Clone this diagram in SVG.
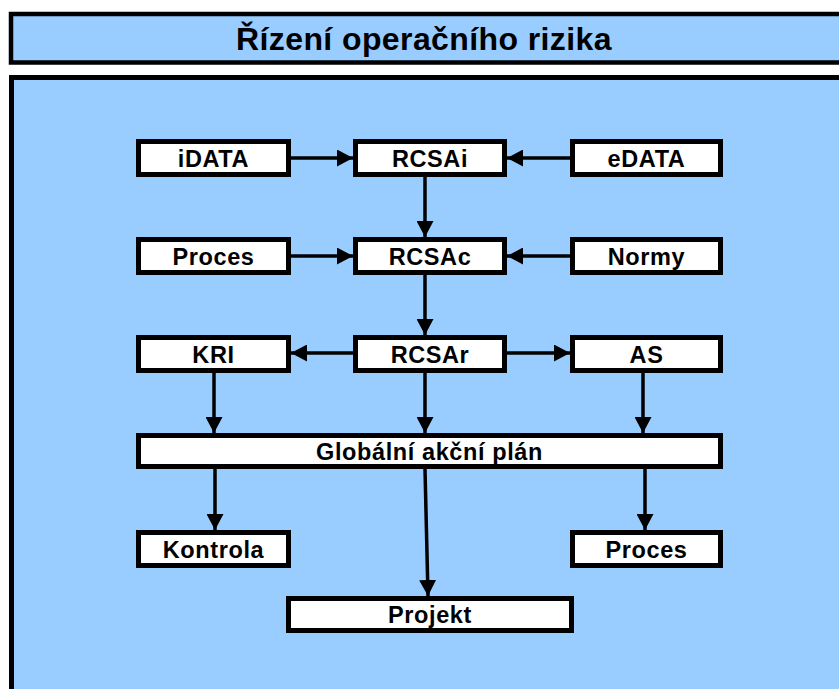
<svg xmlns="http://www.w3.org/2000/svg" width="839" height="689" viewBox="0 0 839 689">
<defs>
<style>
.panel{fill:#99CCFF;stroke:#000;stroke-width:5}
.box{fill:#fff;stroke:#000;stroke-width:5}
.t{font-family:"Liberation Sans",Arial,sans-serif;font-weight:bold;font-size:23.5px;letter-spacing:0.6px;text-anchor:middle;fill:#000}
.title{font-family:"Liberation Sans",Arial,sans-serif;font-weight:bold;font-size:32px;letter-spacing:0.4px;text-anchor:middle;fill:#000}
.c line{stroke:#000;stroke-width:3.5;marker-end:url(#ah)}
</style>
<marker id="ah" markerUnits="userSpaceOnUse" markerWidth="16" markerHeight="17" refX="16" refY="8.5" orient="auto" viewBox="0 0 16 17">
<path d="M0,0 L16,8.5 L0,17 Z" fill="#000"/>
</marker>
</defs>
<rect width="839" height="689" fill="#fff"/>
<g id="header">
<rect class="panel" x="11" y="14" width="840" height="48.5" style="stroke-width:4.5"/>
<text class="title" x="424" y="49.5">Řízení operačního rizika</text>
</g>
<g id="main-panel">
<rect class="panel" x="11.5" y="77.5" width="840" height="620"/>
</g>
<g id="connectors" class="c">
<line x1="291" y1="158" x2="353" y2="158"/>
<line x1="570" y1="158" x2="507" y2="158"/>
<line x1="425" y1="177" x2="425" y2="237"/>
<line x1="291" y1="256" x2="353" y2="256"/>
<line x1="570" y1="256" x2="507" y2="256"/>
<line x1="425" y1="275" x2="425" y2="335"/>
<line x1="353" y1="353" x2="291" y2="353"/>
<line x1="507" y1="353" x2="570" y2="353"/>
<line x1="214" y1="373" x2="214" y2="433"/>
<line x1="425" y1="373" x2="425" y2="433"/>
<line x1="643" y1="373" x2="643" y2="433"/>
<line x1="215" y1="469" x2="215" y2="530"/>
<line x1="645" y1="469" x2="645" y2="530"/>
<line x1="425" y1="469" x2="428" y2="596"/>
</g>
<g id="iDATA"><rect class="box" x="138.5" y="141.5" width="150" height="33"/><text class="t" x="213.5" y="166.5">iDATA</text></g>
<g id="RCSAi"><rect class="box" x="355.5" y="141.5" width="149" height="33"/><text class="t" x="430" y="166.5">RCSAi</text></g>
<g id="eDATA"><rect class="box" x="572.5" y="141.5" width="148" height="33"/><text class="t" x="646.5" y="166.5">eDATA</text></g>
<g id="Proces-in"><rect class="box" x="138.5" y="239.5" width="150" height="33"/><text class="t" x="213.5" y="264.5">Proces</text></g>
<g id="RCSAc"><rect class="box" x="355.5" y="239.5" width="149" height="33"/><text class="t" x="430" y="264.5">RCSAc</text></g>
<g id="Normy"><rect class="box" x="572.5" y="239.5" width="148" height="33"/><text class="t" x="646.5" y="264.5">Normy</text></g>
<g id="KRI"><rect class="box" x="138.5" y="337.5" width="150" height="33"/><text class="t" x="213.5" y="362.5">KRI</text></g>
<g id="RCSAr"><rect class="box" x="355.5" y="337.5" width="149" height="33"/><text class="t" x="430" y="362.5">RCSAr</text></g>
<g id="AS"><rect class="box" x="572.5" y="337.5" width="148" height="33"/><text class="t" x="646.5" y="362.5">AS</text></g>
<g id="Global"><rect class="box" x="138.5" y="435.5" width="582" height="31"/><text class="t" x="429.5" y="459.5">Globální akční plán</text></g>
<g id="Kontrola"><rect class="box" x="138.5" y="532.5" width="150" height="33"/><text class="t" x="213.5" y="557.5">Kontrola</text></g>
<g id="Proces-out"><rect class="box" x="572.5" y="532.5" width="148" height="33"/><text class="t" x="646.5" y="557.5">Proces</text></g>
<g id="Projekt"><rect class="box" x="288.5" y="598.5" width="283" height="32"/><text class="t" x="430" y="622.5">Projekt</text></g>
</svg>
